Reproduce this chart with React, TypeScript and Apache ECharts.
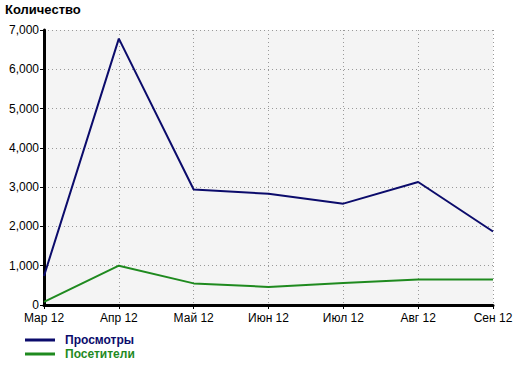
import React, { useEffect, useRef } from "react";
import * as echarts from "echarts";

const categories = ["Мар 12", "Апр 12", "Май 12", "Июн 12", "Июл 12", "Авг 12", "Сен 12"];
const views = [740, 6780, 2940, 2830, 2580, 3130, 1870];
const visitors = [80, 1000, 550, 460, 560, 650, 650];
const seriesNames = ["Просмотры", "Посетители"];
const yTitle = "Количество";

const BLUE = "#0b0b6b";
const GREEN = "#1f8a1f";
const FONT = "'Liberation Sans', Arial, sans-serif";

const legendBase = {
  orient: "horizontal",
  left: 25,
  padding: 0,
  itemWidth: 30,
  itemHeight: 3,
  icon: "rect",
  textStyle: { fontFamily: FONT, fontSize: 12, fontWeight: "bold", padding: [0, 0, 0, 5] },
};

export default function App() {
  const ref = useRef<HTMLDivElement>(null);
  useEffect(() => {
    document.body.style.margin = "0";
    const chart = echarts.init(ref.current!, null, { renderer: "svg" });
    chart.setOption({
      animation: false,
      backgroundColor: "#ffffff",
      title: {
        text: yTitle,
        left: 5,
        top: 3,
        padding: 0,
        textStyle: { fontFamily: FONT, fontSize: 13, fontWeight: "bold", color: "#000" },
      },
      legend: [
        {
          ...legendBase,
          top: 334,
          data: [{ name: seriesNames[0], textStyle: { color: BLUE } }],
        },
        {
          ...legendBase,
          top: 348,
          data: [{ name: seriesNames[1], textStyle: { color: GREEN } }],
        },
      ],
      grid: {
        left: 44,
        top: 30,
        right: 27,
        bottom: 61,
        show: true,
        backgroundColor: "#f4f4f4",
        borderWidth: 0,
      },
      xAxis: {
        type: "category",
        data: categories,
        boundaryGap: false,
        axisLine: { lineStyle: { color: "#000", width: 3 } },
        axisTick: { show: true, length: 4, lineStyle: { color: "#000", width: 1 } },
        axisLabel: { fontFamily: FONT, fontSize: 12, color: "#000", margin: 7 },
        splitLine: { show: true, lineStyle: { color: "#999", type: [1, 3], width: 1 } },
      },
      yAxis: {
        type: "value",
        min: 0,
        max: 7000,
        interval: 1000,
        axisLine: { show: true, lineStyle: { color: "#000", width: 3 } },
        axisTick: { show: true, length: 4, lineStyle: { color: "#000", width: 1 } },
        axisLabel: {
          fontFamily: FONT,
          fontSize: 12,
          color: "#000",
          margin: 5,
          formatter: (v: number) => v.toLocaleString("en-US"),
        },
        splitLine: { show: true, lineStyle: { color: "#999", type: [1, 3], width: 1 } },
      },
      series: [
        {
          name: seriesNames[0],
          type: "line",
          data: views,
          symbol: "none",
          color: BLUE,
          lineStyle: { color: BLUE, width: 2 },
        },
        {
          name: seriesNames[1],
          type: "line",
          data: visitors,
          symbol: "none",
          color: GREEN,
          lineStyle: { color: GREEN, width: 2 },
        },
      ],
    });
    return () => chart.dispose();
  }, []);
  return <div ref={ref} style={{ width: 520, height: 366 }} />;
}
